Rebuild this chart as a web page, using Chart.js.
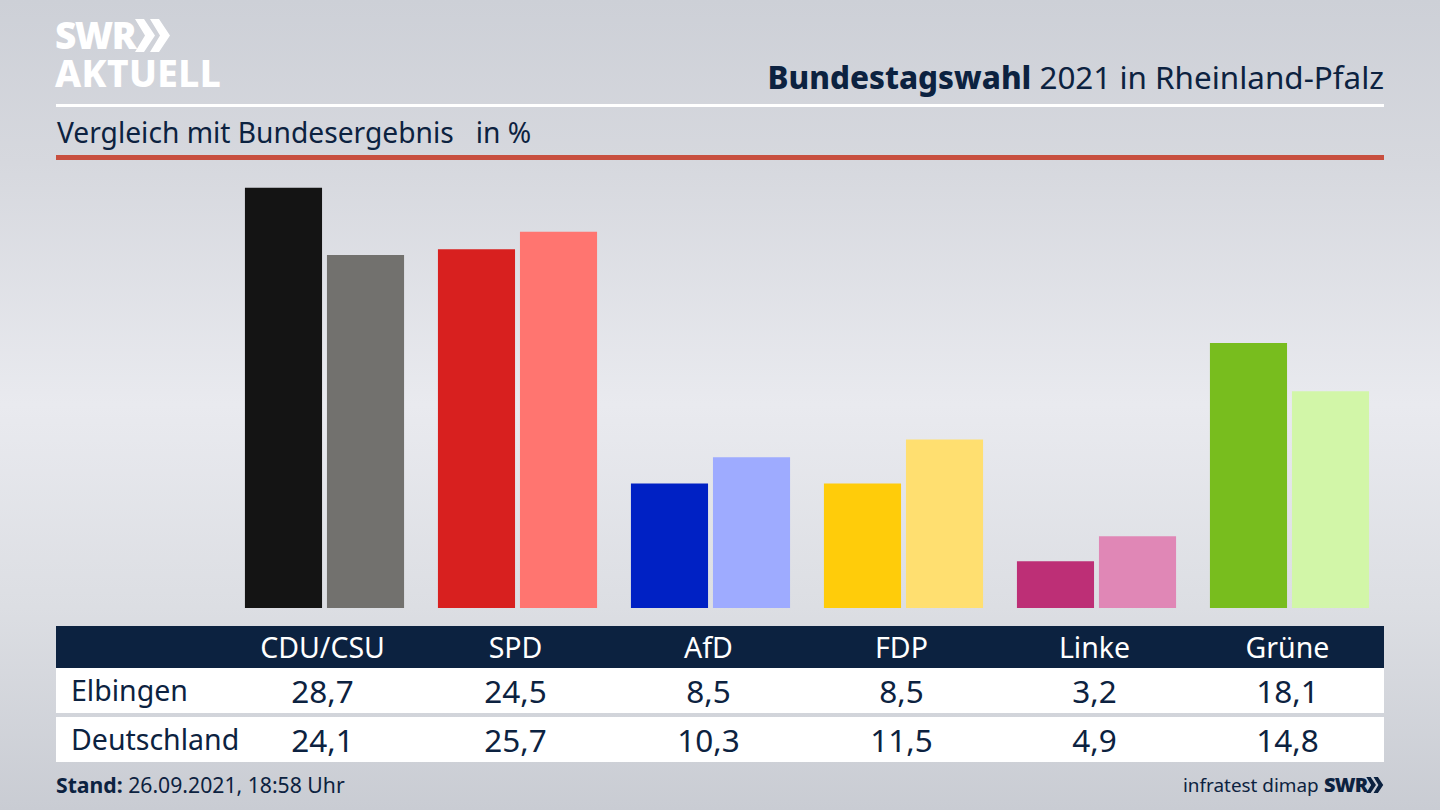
<!DOCTYPE html>
<html lang="de">
<head>
<meta charset="utf-8">
<title>Bundestagswahl 2021 in Rheinland-Pfalz</title>
<script src="https://cdn.jsdelivr.net/npm/chart.js@4"></script>
<style>
  html, body { margin: 0; padding: 0; }
  body {
    width: 1440px; height: 810px; position: relative; overflow: hidden;
    font-family: "Noto Sans", sans-serif; color: #0c2240;
    background: linear-gradient(180deg, #cdd0d7 0%, #d6d8de 20%, #e9eaef 50%, #dcdee3 75%, #c9ccd3 100%);
  }
  .abs { position: absolute; white-space: nowrap; }
  #chart-box { position: absolute; left: 228px; top: 168px; width: 1158px; height: 440px; }
  #logo1, #logo2 { color: #fff; font-weight: 900; font-family: "Noto Sans", sans-serif; }
  #logo1 { left: 55px; top: 10px; font-size: 37px; letter-spacing: -1.5px; line-height: 50px; }
  #logo2 { left: 55px; top: 48px; font-size: 37px; letter-spacing: 0.4px; line-height: 50px; font-weight: 800; }
  #title { right: 56px; top: 56px; font-size: 31.4px; line-height: 42px; }
  #title b { font-weight: 800; }
  #subtitle { left: 57px; top: 112px; font-size: 28.2px; line-height: 40px; white-space: pre; }
  .rule { position: absolute; left: 56px; width: 1328px; }
  .row { position: absolute; left: 56px; width: 1328px; }
  .cell { position: absolute; top: 0; width: 193px; text-align: center; transform: translateX(-50%); }
  .rowlabel { position: absolute; left: 15px; top: 0; font-size: 28.5px; }
  #foot-left { left: 56px; top: 770px; font-size: 21.2px; line-height: 30px; }
  #foot-right { left: 1183px; top: 770px; font-size: 18.9px; line-height: 30px; }
  #foot-swr { left: 1324px; top: 770px; font-size: 20px; line-height: 30px; font-weight: 900; letter-spacing: -0.8px; }
</style>
</head>
<body>
<div class="abs" id="logo1">SWR</div>
<svg class="abs" style="left:135px;top:19px" width="36" height="33" viewBox="0 0 36 33">
  <polygon points="0,0 9,0 20,16.5 9,33 0,33 10,16.5" fill="#fff"/>
  <polygon points="15,0 24,0 35,16.5 24,33 15,33 25,16.5" fill="#fff"/>
</svg>
<div class="abs" id="logo2">AKTUELL</div>
<div class="abs" id="title"><b>Bundestagswahl</b> 2021 in Rheinland-Pfalz</div>
<div class="rule" style="top:104px;height:3px;background:#fff"></div>
<div class="abs" id="subtitle">Vergleich mit Bundesergebnis   in %</div>
<div class="rule" style="top:155px;height:5px;background:#c84f3f"></div>

<div id="chart-box"><canvas id="chart"></canvas></div>

<div class="row" id="head-row" style="top:626px;height:42px;background:#0c2240;color:#fff;font-size:28.5px;line-height:42px"></div>
<div class="row" id="row-a" style="top:668px;height:45px;background:#fff;font-size:31.5px;line-height:45px"></div>
<div class="row" id="row-b" style="top:717px;height:45px;background:#fff;font-size:31.5px;line-height:45px"></div>

<div class="abs" id="foot-left"><b>Stand:</b> 26.09.2021, 18:58 Uhr</div>
<div class="abs" id="foot-right">infratest dimap</div>
<div class="abs" id="foot-swr">SWR</div>
<svg class="abs" style="left:1366px;top:777px" width="18" height="16" viewBox="0 0 36 33">
  <polygon points="0,0 9,0 20,16.5 9,33 0,33 10,16.5" fill="#0c2240"/>
  <polygon points="15,0 24,0 35,16.5 24,33 15,33 25,16.5" fill="#0c2240"/>
</svg>

<script>
const parties = ['CDU/CSU', 'SPD', 'AfD', 'FDP', 'Linke', 'Grüne'];
const rowNames = ['Elbingen', 'Deutschland'];
const elbingen = [28.7, 24.5, 8.5, 8.5, 3.2, 18.1];
const deutschland = [24.1, 25.7, 10.3, 11.5, 4.9, 14.8];
const darkColors = ['#141414', '#d8201f', '#0021c4', '#ffcc0a', '#bd2f76', '#78bd1e'];
const lightColors = ['#72716e', '#ff7570', '#9eabff', '#ffdf70', '#e087b6', '#d2f6a8'];

document.addEventListener('DOMContentLoaded', () => {
  new Chart(document.getElementById('chart'), {
    type: 'bar',
    data: {
      labels: parties,
      datasets: [
        { label: rowNames[0], data: elbingen, backgroundColor: darkColors },
        { label: rowNames[1], data: deutschland, backgroundColor: lightColors }
      ]
    },
    options: {
      responsive: true,
      maintainAspectRatio: false,
      animation: false,
      categoryPercentage: 0.85,
      barPercentage: 0.94,
      layout: { padding: 0 },
      plugins: { legend: { display: false }, tooltip: { enabled: false } },
      scales: {
        x: { display: false },
        y: { display: false, min: 0, max: 30.05 }
      }
    }
  });

  // table under the bars, columns line up with the chart categories
  function fillRow(id, label, values) {
    const row = document.getElementById(id);
    if (label) {
      const l = document.createElement('div');
      l.className = 'rowlabel';
      l.textContent = label;
      row.appendChild(l);
    }
    values.forEach((v, i) => {
      const c = document.createElement('div');
      c.className = 'cell';
      c.style.left = (172 + 96.5 + i * 193 - 2) + 'px';
      c.textContent = typeof v === 'number' ? v.toFixed(1).replace('.', ',') : v;
      row.appendChild(c);
    });
  }
  fillRow('head-row', '', parties);
  fillRow('row-a', rowNames[0], elbingen);
  fillRow('row-b', rowNames[1], deutschland);
});
</script>
</body>
</html>
